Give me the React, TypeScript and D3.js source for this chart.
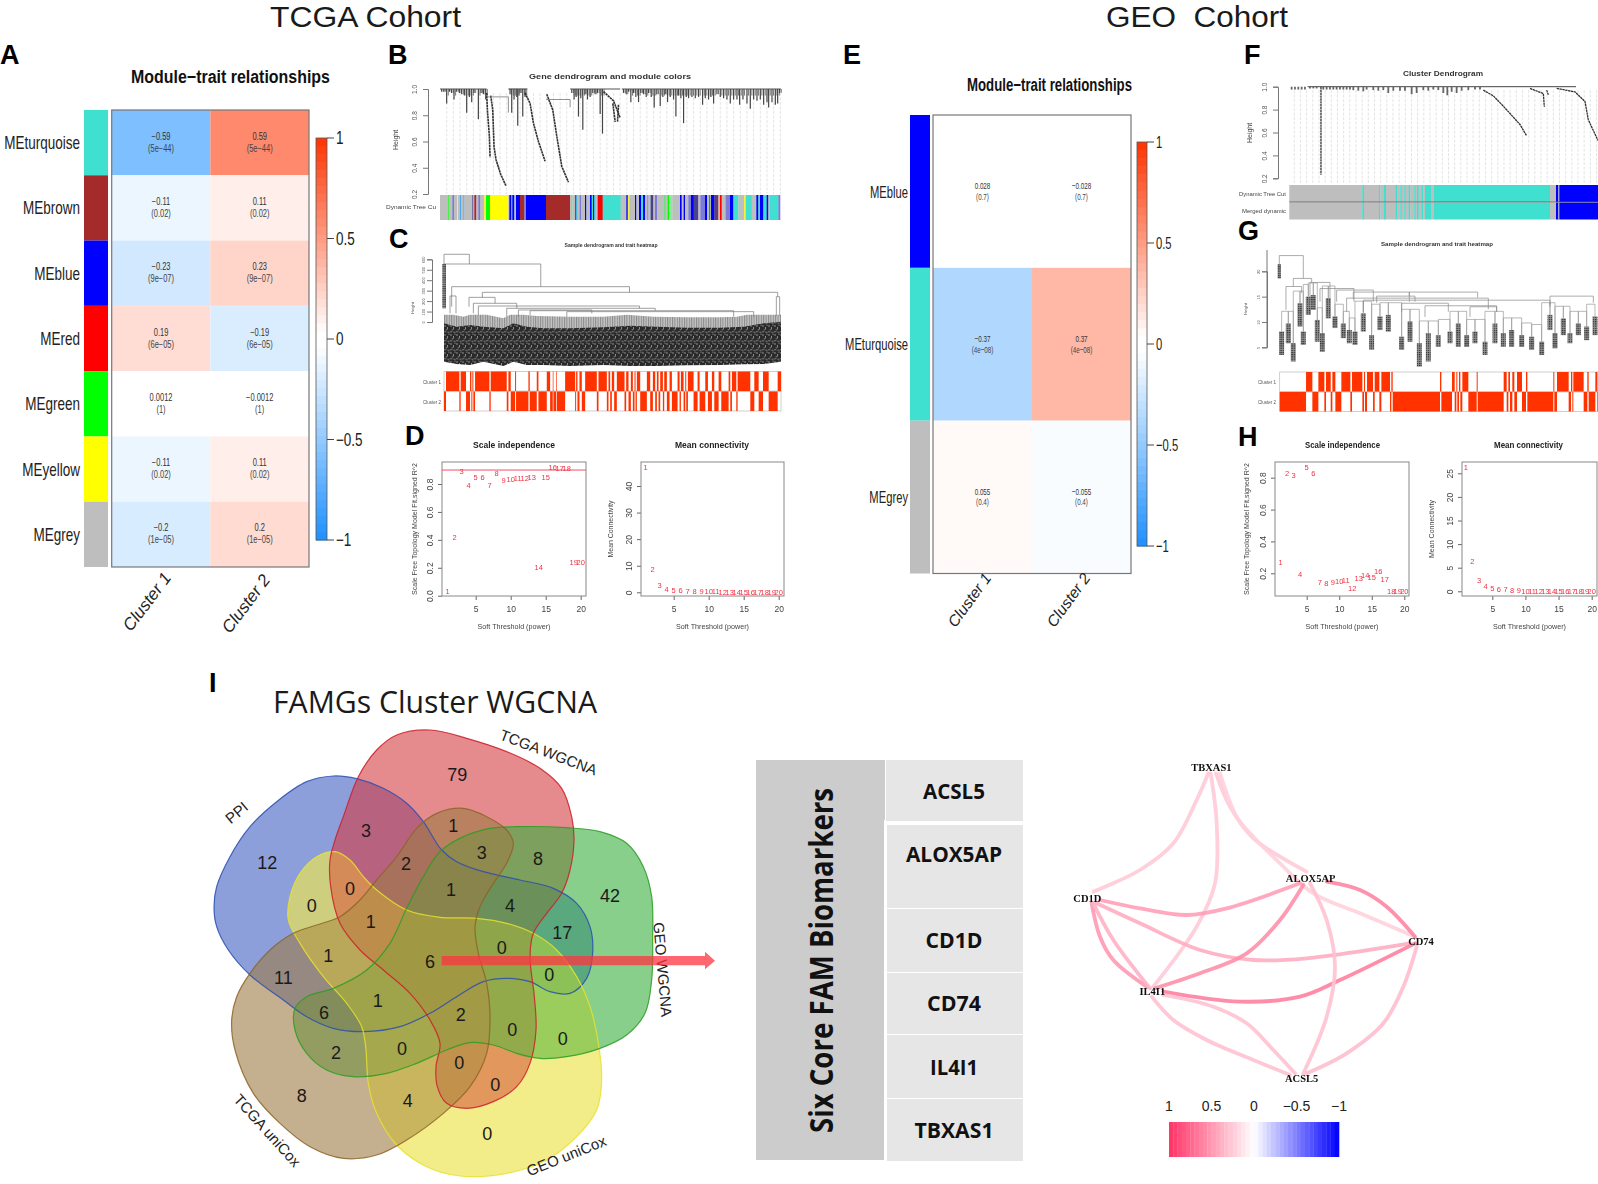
// WGCNA summary figure: TCGA and GEO module-trait panels, venn diagram, biomarker table and network
import React, { useEffect, useRef } from 'react';
import * as d3 from 'd3';

const SANS = '"Liberation Sans", Arial, sans-serif';
const SERIF = '"Liberation Serif", serif';
const OPEN = '"Open Sans", sans-serif';

const TURQ = '#40E0D0', BROWN = '#A52A2A', BLUE = '#0000FF', RED = '#FF0000';
const GREEN = '#00FF00', YELLOW = '#FFFF00', GREY = '#BEBEBE', SLATE = '#7B7BD8', LTB = '#4FA8F0', DK = '#4B3F8F';

// Panel A
const tcgaModules = ['MEturquoise', 'MEbrown', 'MEblue', 'MEred', 'MEgreen', 'MEyellow', 'MEgrey'];
const tcgaColors = [TURQ, BROWN, BLUE, RED, GREEN, YELLOW, GREY];
const tcgaCluster1 = [-0.59, -0.11, -0.23, 0.19, 0.0012, -0.11, -0.2];
const tcgaCluster2 = [0.59, 0.11, 0.23, -0.19, -0.0012, 0.11, 0.2];
const tcgaPValues = ['(5e−44)', '(0.02)', '(9e−07)', '(6e−05)', '(1)', '(0.02)', '(1e−05)'];

// Panel E
const geoModules = ['MEblue', 'MEturquoise', 'MEgrey'];
const geoColors = [BLUE, TURQ, GREY];
const geoCluster1 = [0.028, -0.37, 0.055];
const geoCluster2 = [-0.028, 0.37, -0.055];
const geoPValues = ['(0.7)', '(4e−08)', '(0.4)'];

const clusters = ['Cluster 1', 'Cluster 2'];
const barTicks = [-1, -0.5, 0, 0.5, 1];

// Panels D and H
const powers = d3.range(1, 21);
const tcgaFit = [0.03, 0.42, 0.89, 0.79, 0.845, 0.845, 0.79, 0.88, 0.83, 0.835, 0.84, 0.84, 0.85, 0.2, 0.85, 0.92, 0.91, 0.91, 0.24, 0.24];
const tcgaConn = [46.9, 8.5, 2.5, 1, 0.9, 0.6, 0.4, 0.3, 0.2, 0.2, 0.2, 0.1, 0.1, 0.1, 0.1, 0.1, 0.1, 0.1, 0.1, 0.1];
const geoFit = [0.27, 0.827, 0.815, 0.196, 0.865, 0.83, 0.143, 0.14, 0.145, 0.15, 0.158, 0.106, 0.169, 0.19, 0.175, 0.21, 0.162, 0.09, 0.09, 0.087];
const geoConn = [26.3, 6.4, 2.3, 1.1, 0.6, 0.5, 0.4, 0.2, 0.2, 0.1, 0.1, 0.1, 0.1, 0.1, 0.1, 0.1, 0.1, 0.1, 0.1, 0.1];

// Panel B: gene dendrogram, order along the tree and merge height
const geneFringeOrder = [5, 12, 20, 28, 35, 42, 50, 58, 65, 73, 80, 88, 95, 102, 115, 123, 130, 137, 210, 215, 222, 230, 233, 240, 248, 255, 395, 402, 408, 415, 422, 428, 435, 442, 450, 458, 465, 472, 480, 487, 550, 558, 565, 572, 580, 587, 595, 602, 610, 618, 625, 633, 642, 650, 660, 668, 675, 682, 690, 700, 707, 715, 722, 730, 738, 745, 755, 765, 775, 787, 795, 805, 812, 820, 830, 840, 850, 860, 870, 880, 890, 898, 908, 920, 930, 940, 950, 960, 970, 980, 985, 995, 1005, 1012, 1018];
const geneFringeHeight = [0.98, 0.98, 0.89, 0.98, 0.97, 0.92, 0.98, 0.97, 0.96, 0.95, 0.82, 0.94, 0.9, 0.97, 0.77, 0.97, 0.96, 0.92, 0.96, 0.82, 0.92, 0.94, 0.72, 0.97, 0.79, 0.94, 0.97, 0.92, 0.94, 0.79, 0.93, 0.69, 0.96, 0.92, 0.94, 0.97, 0.96, 0.97, 0.81, 0.66, 0.97, 0.96, 0.98, 0.9, 0.97, 0.94, 0.9, 0.97, 0.96, 0.94, 0.97, 0.94, 0.86, 0.96, 0.87, 0.94, 0.96, 0.9, 0.94, 0.92, 0.79, 0.95, 0.93, 0.74, 0.94, 0.93, 0.94, 0.93, 0.94, 0.88, 0.93, 0.92, 0.94, 0.89, 0.96, 0.94, 0.93, 0.92, 0.89, 0.92, 0.92, 0.88, 0.92, 0.89, 0.85, 0.92, 0.91, 0.92, 0.88, 0.9, 0.86, 0.9, 0.88, 0.89, 0.97];
const geneBranches = [
  [[140, 0.97], [142, 0.84], [148, 0.64], [150, 0.48]],
  [[152, 0.95], [158, 0.84], [162, 0.56], [168, 0.46], [182, 0.35], [198, 0.26]],
  [[255, 0.97], [270, 0.89], [280, 0.74], [295, 0.6], [315, 0.45]],
  [[320, 0.96], [338, 0.84], [350, 0.64], [365, 0.41], [385, 0.29]],
  [[490, 0.98], [520, 0.91], [540, 0.78]],
  [[518, 0.89], [525, 0.75]],
  [[535, 0.88], [532, 0.75]],
];
const geneTop = [[0, 140], [205, 262], [390, 540], [545, 1022]];
const geneStripEnds = [40, 43, 52, 57, 66, 69, 75, 78, 85, 88, 112, 115, 118, 124, 130, 136, 148, 153, 165, 220, 223, 228, 232, 238, 243, 255, 268, 273, 333, 405, 408, 412, 421, 424, 428, 434, 438, 450, 454, 465, 470, 474, 478, 482, 488, 503, 557, 574, 578, 580, 583, 600, 604, 612, 618, 624, 630, 637, 640, 647, 655, 660, 666, 687, 692, 698, 703, 712, 735, 740, 746, 750, 760, 768, 776, 790, 796, 810, 816, 822, 826, 828, 838, 845, 850, 855, 860, 872, 885, 895, 910, 928, 932, 950, 964, 970, 975, 985, 995, 1000, 1005, 1030, 1035];
const geneStripColors = [GREY, GREEN, GREY, SLATE, GREY, YELLOW, GREY, LTB, GREY, LTB, GREY, DK, GREY, BROWN, GREY, SLATE, GREY, YELLOW, GREEN, YELLOW, GREY, BLUE, LTB, BLUE, GREY, BLUE, BROWN, SLATE, BLUE, BROWN, GREY, '#7FE08F', GREY, BLUE, TURQ, GREY, SLATE, GREY, BLUE, GREY, BLUE, TURQ, BLUE, TURQ, GREY, RED, TURQ, GREY, BLUE, GREY, YELLOW, GREY, BLUE, GREY, BLUE, TURQ, BLUE, GREY, SLATE, GREY, DK, GREY, SLATE, GREY, '#6FE07F', GREY, GREEN, '#8FE89F', GREY, BLUE, GREY, BLUE, GREY, SLATE, BLUE, DK, GREY, SLATE, BLUE, GREY, '#22AA22', GREY, BLUE, DK, BROWN, GREY, RED, GREY, SLATE, BLUE, TURQ, GREY, YELLOW, TURQ, GREY, BLUE, TURQ, BLUE, TURQ, BLUE, GREY, TURQ, SLATE];

// Panel C: sample dendrogram, levels read against its height axis
const sampleTicks = [600, 500, 400, 300, 200, 100, 0];
const sampleEnvOrder = [0, 38, 78, 118, 178, 208, 248, 298, 378, 478, 558, 638, 728, 828, 898, 958, 1010];
const sampleEnvTop = [-13, -45, -29, -45, -61, -13, -45, -61, -61, -51, -35, -45, -54, -54, -45, -13, 3];
const sampleEnvBottom = [-380, -402, -412, -380, -421, -380, -412, -412, -421, -412, -421, -421, -415, -412, -405, -402, -380];
const sampleStemOrder = [0, 28, 58, 78, 98, 128, 178, 198, 238, 278, 378, 478, 548, 628, 728, 828, 878, 908, 938, 968, 998, 1010];
const sampleStemTop = [83, 99, 51, 147, 99, 83, 35, 131, 99, 58, 51, 51, 77, 51, 45, 45, 51, 115, 121, 83, 242, 83];
const sampleMerges = [
  [0, 76, 648, 555, 555], [0, 290, 555, 555, 338], [23, 556, 338, 147, 284], [115, 1000, 284, 236, 242],
  [75, 153, 236, 147, 179], [88, 218, 179, 83, 131], [103, 586, 153, 67, 131], [188, 633, 131, 51, 108],
  [223, 443, 115, 51, 83], [258, 868, 108, 67, 51], [368, 928, 99, 51, 51], [18, 36, 249, 83, 83], [996, 1006, 242, 60, 60],
];
const sampleCluster1 = [[18, 58], [62, 78], [90, 94], [97, 100], [105, 148], [152, 200], [205, 212], [225, 228], [265, 269], [290, 295], [320, 330], [338, 340], [348, 350], [375, 405], [408, 412], [418, 425], [435, 470], [475, 500], [505, 510], [515, 522], [530, 553], [558, 565], [572, 578], [583, 586], [590, 600], [620, 630], [638, 645], [650, 655], [660, 668], [672, 680], [688, 695], [712, 718], [722, 730], [735, 738], [743, 760], [772, 778], [795, 803], [815, 822], [835, 843], [865, 870], [875, 888], [892, 930], [942, 955], [968, 985], [1012, 1022]];

// Panel F
const geoGeneFringeOrder = [7, 17, 27, 37, 47, 62, 72, 82, 102, 112, 122, 132, 142, 152, 162, 172, 182, 192, 207, 222, 232, 252, 267, 282, 297, 312, 332, 347, 367, 382, 402, 417, 432, 447, 462, 474, 487, 502, 517, 537, 557, 572];
const geoGeneFringeHeight = [0.975, 0.975, 0.975, 0.975, 0.975, 0.985, 0.985, 0.985, 0.975, 0.975, 0.975, 0.975, 0.975, 0.975, 0.975, 0.975, 0.975, 0.97, 0.965, 0.96, 0.975, 0.97, 0.965, 0.97, 0.945, 0.965, 0.965, 0.965, 0.935, 0.945, 0.97, 0.965, 0.975, 0.97, 0.945, 0.925, 0.955, 0.945, 0.965, 0.97, 0.975, 0.975];
const geoGeneBranches = [
  [[95, 1.0], [95, 0.23]],
  [[582, 0.97], [612, 0.92], [642, 0.83], [667, 0.75], [692, 0.67], [712, 0.57]],
  [[722, 0.985], [762, 0.94], [765, 0.825]],
  [[772, 0.97], [777, 0.93]],
  [[802, 0.985], [857, 0.955], [887, 0.87], [897, 0.71], [926, 0.53]],
];
const geoStripEnds = [219, 224, 269, 273, 284, 290, 318, 323, 333, 337, 345, 349, 358, 363, 375, 379, 383, 388, 397, 402, 407, 425, 434, 782, 800, 807, 810, 926];
const geoStripColors = [GREY, TURQ, GREY, TURQ, GREY, TURQ, GREY, TURQ, GREY, TURQ, GREY, TURQ, GREY, TURQ, GREY, TURQ, GREY, TURQ, GREY, TURQ, GREY, TURQ, GREY, TURQ, GREY, BLUE, GREY, BLUE];

// Panel G: leaf clumps with their top and bottom heights, then the long merges above them
const clumpOrder = [7, 27, 42, 62, 72, 87, 102, 114, 129, 147, 167, 192, 210, 227, 252, 277, 302, 327, 367, 392, 420, 447, 477, 512, 537, 562, 587, 617, 647, 672, 697, 727, 757, 787, 812, 827, 852, 872, 897, 922, 947];
const clumpTop = [8.1, 9.7, 5.8, 13.7, 8.1, 15, 15.3, 10.4, 7.8, 14.7, 11.1, 9.7, 8.4, 8.1, 11.7, 7.4, 11.1, 11.4, 7.1, 10.1, 5.8, 7.8, 7.4, 8.1, 9.7, 7.4, 8.1, 6.1, 9.7, 7.8, 8.4, 7.4, 7.1, 6.1, 11.4, 7.8, 10.7, 7.8, 9.7, 9.1, 11.1];
const clumpBottom = [3.5, 5.8, 2.2, 9.1, 5.5, 11.4, 12.4, 6.1, 4.1, 10.7, 8.8, 6.8, 5.8, 5.5, 8.1, 4.5, 8.4, 8.1, 4.5, 6.1, 1.2, 2.2, 5.1, 5.8, 5.1, 5.1, 5.8, 3.5, 5.8, 5.1, 5.1, 5.1, 4.5, 3.5, 8.4, 4.8, 7.4, 5.8, 7.4, 6.4, 7.4];
const geoMerges = [
  [0, 72, 23.1, 21.4, 18.6], [42, 97, 18.6, 17, 17.8], [20, 67, 17, 12.4, 15.7], [92, 152, 17.8, 14, 14.7],
  [122, 224, 16.6, 14, 14], [172, 282, 16.3, 14, 14], [222, 390, 15.9, 14.5, 15.1], [390, 595, 15.9, 14, 14.8],
  [202, 627, 14.7, 12, 12.5], [292, 407, 15.1, 13.8, 14], [252, 812, 14.3, 12, 13], [367, 507, 13.7, 12, 12],
  [437, 652, 13.2, 11, 12], [572, 652, 13, 11, 12], [812, 942, 15.1, 13.5, 13.8],
];
const geoCluster1Spans = [[93, 112], [130, 148], [153, 167], [172, 181], [199, 226], [231, 262], [267, 270], [276, 294], [299, 313], [319, 345], [349, 353], [495, 499], [531, 539], [544, 547], [552, 556], [562, 580], [605, 608], [686, 695], [700, 705], [712, 718], [726, 741], [753, 757], [835, 838], [846, 881], [888, 892], [895, 926], [937, 941], [961, 967]];

// Panel I: venn outlines and counts, in the diagram's own units
const vennPPI = [[400, 288], [470, 296], [550, 325], [620, 370], [670, 425], [725, 510], [770, 545], [850, 575], [960, 600], [1060, 625], [1130, 670], [1170, 740], [1178, 820], [1160, 895], [1110, 940], [1050, 935], [990, 905], [920, 895], [850, 905], [770, 950], [690, 1000], [600, 1040], [490, 1055], [400, 1045], [320, 1010], [250, 960], [150, 885], [85, 810], [50, 740], [42, 680], [50, 620], [90, 530], [150, 440], [230, 365], [320, 305]];
const vennTcgaWgcna = [[690, 150], [800, 175], [920, 215], [1020, 265], [1085, 325], [1115, 410], [1122, 480], [1110, 570], [1085, 640], [1040, 700], [1000, 760], [990, 830], [1003, 950], [1008, 1050], [990, 1150], [950, 1220], [880, 1265], [800, 1285], [740, 1270], [712, 1220], [708, 1160], [720, 1090], [690, 1020], [630, 940], [550, 870], [480, 810], [420, 730], [392, 620], [390, 540], [405, 480], [430, 410], [475, 290], [530, 210], [590, 165]];
const vennGeoWgcna = [[950, 440], [1100, 443], [1200, 455], [1280, 490], [1330, 560], [1355, 650], [1358, 780], [1355, 900], [1335, 1000], [1280, 1065], [1200, 1105], [1100, 1130], [1020, 1135], [950, 1120], [880, 1095], [810, 1088], [740, 1110], [650, 1150], [560, 1180], [460, 1190], [380, 1170], [320, 1120], [285, 1050], [285, 985], [320, 950], [400, 925], [500, 870], [570, 790], [620, 685], [670, 590], [720, 515], [790, 470], [870, 445]];
const vennTcgaUni = [[790, 385], [860, 410], [920, 450], [940, 490], [920, 550], [880, 610], [840, 680], [825, 740], [835, 820], [860, 910], [870, 1010], [860, 1120], [810, 1220], [730, 1300], [620, 1380], [530, 1425], [430, 1435], [330, 1400], [240, 1330], [160, 1240], [105, 1110], [95, 1020], [110, 950], [150, 880], [210, 810], [280, 760], [350, 735], [420, 710], [480, 660], [530, 600], [590, 530], [650, 445], [710, 400]];
const vennGeoUni = [[405, 515], [450, 540], [490, 590], [530, 630], [620, 690], [720, 712], [830, 715], [920, 730], [1000, 760], [1070, 810], [1130, 890], [1170, 980], [1195, 1090], [1205, 1200], [1190, 1290], [1130, 1370], [1040, 1440], [920, 1480], [780, 1488], [680, 1460], [590, 1395], [530, 1300], [505, 1210], [497, 1100], [485, 1040], [440, 970], [370, 890], [300, 790], [265, 720], [270, 650], [300, 580], [350, 530]];
const vennShapes = [vennPPI, vennGeoUni, vennTcgaWgcna, vennGeoWgcna, vennTcgaUni];
const vennFills = ['#3F5FC3', '#EEED5F', '#D43C41', '#39AF3F', '#9D7B44'];
const vennStrokes = ['#2C4DB0', '#E8E22E', '#CC1F2A', '#2A9E22', '#8C6428'];
const vennCounts = ['79', '3', '1', '12', '3', '8', '2', '42', '0', '1', '4', '0', '1', '17', '0', '1', '6', '0', '11', '1', '6', '2', '0', '0', '2', '0', '0', '0', '8', '4', '0'];
const vennCountPos = [[772, 283], [498, 452], [760, 435], [202, 548], [845, 516], [1014, 536], [618, 549], [1230, 647], [450, 624], [753, 628], [930, 677], [335, 675], [512, 725], [1087, 757], [905, 802], [385, 825], [690, 845], [1048, 883], [250, 892], [533, 960], [372, 997], [782, 1002], [937, 1047], [1088, 1075], [408, 1117], [606, 1105], [778, 1147], [886, 1212], [305, 1245], [623, 1262], [862, 1360]];
const vennSets = ['TCGA WGCNA', 'PPI', 'GEO WGCNA', 'TCGA uniCox', 'GEO uniCox'];
const vennSetPos = [[1040, 232], [120, 410], [1372, 870], [190, 1362], [1105, 1442]];
const vennSetAngle = [21, -40, 85, 48, -22];

// Biomarker table and correlation network
const biomarkers = ['ACSL5', 'ALOX5AP', 'CD1D', 'CD74', 'IL4I1', 'TBXAS1'];
const biomarkerTops = [760, 825, 909, 973, 1035, 1099];
const biomarkerBottoms = [821, 908, 972, 1034, 1098, 1161];
const biomarkerBase = [799, 862, 948, 1011, 1075, 1138];
const biomarkerWidths = [62, 96, 57, 54, 48, 79];
const nodeNames = ['TBXAS1', 'ALOX5AP', 'CD1D', 'CD74', 'IL4I1', 'ACSL5'];
const nodePos = [[514, 83], [812, 415], [142, 475], [1143, 605], [337, 755], [785, 1015]];
const edgeCorr = [0.26, 0.26, 0.26, 0.22, 0.6, 0.47, 0.4, 0.5, 0.38, 0.55, 0.62, 0.3, 0.3, 0.3, 0.32];
const edgePaths = [
  [[505, 100], [470, 180], [400, 310], [300, 390], [160, 455]],
  [[512, 100], [530, 250], [525, 430], [470, 560], [340, 740]],
  [[528, 100], [570, 200], [640, 295], [800, 395]],
  [[540, 100], [590, 230], [640, 290], [720, 370], [820, 460], [960, 520], [1125, 590]],
  [[860, 425], [960, 450], [1040, 500], [1125, 590]],
  [[180, 480], [300, 505], [440, 525], [560, 505], [780, 430]],
  [[170, 490], [300, 550], [480, 630], [640, 660], [800, 655], [1110, 610]],
  [[155, 490], [180, 590], [220, 660], [320, 740]],
  [[160, 490], [220, 600], [330, 745]],
  [[345, 745], [480, 700], [620, 640], [720, 540], [790, 435]],
  [[370, 755], [600, 785], [780, 770], [900, 720], [1125, 610]],
  [[370, 765], [520, 800], [620, 850], [700, 930], [765, 1000]],
  [[335, 770], [400, 840], [500, 900], [640, 960], [750, 1005]],
  [[810, 430], [860, 540], [885, 680], [860, 830], [790, 1000]],
  [[1130, 620], [1090, 740], [1030, 850], [920, 940], [800, 1000]],
];
const netLegendTicks = [1, 0.5, 0, -0.5, -1];
const netLegendLabels = ['1', '0.5', '0', '−0.5', '−1'];

type Sel = d3.Selection<any, any, any, any>;
interface TextOpts { size?: number; anchor?: string; weight?: string | number; family?: string; fill?: string; rot?: number; sx?: number; len?: number; italic?: boolean; }

const put = (sel: Sel, str: string, x: number, y: number, o: TextOpts = {}) => {
  const t = sel.append('text')
    .attr('transform', `translate(${x},${y})${o.rot ? ` rotate(${o.rot})` : ''}${o.sx ? ` scale(${o.sx},1)` : ''}`)
    .attr('text-anchor', o.anchor ?? 'start')
    .attr('font-family', o.family ?? SANS)
    .attr('font-size', o.size ?? 10)
    .attr('font-weight', o.weight ?? 'normal')
    .attr('fill', o.fill ?? '#111')
    .style('white-space', 'pre')
    .text(str);
  if (o.italic) t.attr('font-style', 'italic');
  if (o.len) t.attr('textLength', o.len).attr('lengthAdjust', 'spacingAndGlyphs');
  return t;
};

// the key is white for anything very close to zero
const heatColor = d3.scaleLinear<string>().domain([-1, -0.03, 0.03, 1]).range(['#1E90FF', '#FFFFFF', '#FFFFFF', '#FF3300']);
const netColor = d3.scaleLinear<string>().domain([-1, 0, 1]).range(['#0000FF', '#FFFFFF', '#FF3366']);

interface HeatOpts {
  modules: string[]; colors: string[]; c1: number[]; c2: number[]; pvals: string[];
  x: [number, number]; y: [number, number]; strip: [number, number]; bar: [number, number, number, number];
  title: [number, number, number]; labelX: number; labelSize: number; labelSx: number; cellSize: number; cellSx: number; cellGap: number;
  clusterEnd: [number, number][]; clusterSize: number; clusterRot: number;
}

function drawHeatmap(svg: Sel, o: HeatOpts) {
  const g = svg.append('g');
  const row = d3.scaleBand<string>().domain(o.modules).range(o.y);
  const col = d3.scaleBand<string>().domain(clusters).range(o.x);
  put(g, 'Module−trait relationships', o.title[0], o.title[1], { size: 18, weight: 'bold', len: o.title[2] });
  o.modules.forEach((m, i) => {
    const y = row(m) as number;
    g.append('rect').attr('x', o.strip[0]).attr('y', y).attr('width', o.strip[1] - o.strip[0]).attr('height', row.bandwidth()).attr('fill', o.colors[i]);
    [o.c1[i], o.c2[i]].forEach((v, j) => {
      const name = clusters[j];
      const cx = (col(name) as number) + col.bandwidth() / 2;
      const cy = y + row.bandwidth() / 2;
      g.append('rect').attr('x', col(name) as number).attr('y', y).attr('width', col.bandwidth()).attr('height', row.bandwidth()).attr('fill', heatColor(v));
      const label = String(v).replace('-', '−');
      put(g, label, cx, cy - o.cellGap + 3, { size: o.cellSize, sx: o.cellSx, anchor: 'middle', fill: '#333' });
      put(g, o.pvals[i], cx, cy + o.cellGap + 3, { size: o.cellSize, sx: o.cellSx, anchor: 'middle', fill: '#444' });
    });
    put(g, m, o.labelX, y + row.bandwidth() / 2 + o.labelSize * 0.36, { size: o.labelSize, sx: o.labelSx, anchor: 'end', fill: '#222' });
  });
  g.append('rect').attr('x', o.x[0]).attr('y', o.y[0]).attr('width', o.x[1] - o.x[0]).attr('height', o.y[1] - o.y[0]).attr('fill', 'none').attr('stroke', '#777').attr('stroke-width', 1.2);

  clusters.forEach((c, i) => {
    put(g, c, o.clusterEnd[i][0], o.clusterEnd[i][1], { size: o.clusterSize, anchor: 'end', rot: o.clusterRot, italic: true, fill: '#222' });
  });

  // colour key
  const [bx0, bx1, by0, by1] = o.bar;
  const bar = d3.scaleLinear().domain([-1, 1]).range([by1, by0]);
  d3.range(-1, 1, 0.04).forEach((v) => {
    g.append('rect').attr('x', bx0).attr('y', bar(v + 0.04)).attr('width', bx1 - bx0).attr('height', bar(v) - bar(v + 0.04) + 0.5).attr('fill', heatColor(v + 0.02));
  });
  g.append('rect').attr('x', bx0).attr('y', by0).attr('width', bx1 - bx0).attr('height', by1 - by0).attr('fill', 'none').attr('stroke', '#555').attr('stroke-width', 0.8);
  barTicks.forEach((t) => {
    g.append('line').attr('x1', bx1).attr('x2', bx1 + 7).attr('y1', bar(t)).attr('y2', bar(t)).attr('stroke', '#444');
    put(g, String(t).replace('-', '−'), bx1 + 9, bar(t) + o.labelSize * 0.36, { size: o.labelSize, sx: o.labelSx, fill: '#222' });
  });
}

interface SoftOpts {
  box: [number, number, number, number]; xr: [number, number]; yd: [number, number]; yr: [number, number];
  values: number[]; yTicks: number[]; fmt: (v: number) => string; title: string; titleX: [number, number];
  ylabel: string; ylabelX: number; ylabelLen: number; cutoff?: number;
}

function drawSoftPanel(svg: Sel, o: SoftOpts) {
  const g = svg.append('g').attr('filter', 'url(#soft)');
  const [x0, x1, y0, y1] = o.box;
  const x = d3.scaleLinear().domain([5, 20]).range(o.xr);
  const y = d3.scaleLinear().domain(o.yd).range(o.yr);
  const ax = g.append('g').attr('transform', `translate(0,${y1})`)
    .call(d3.axisBottom(x).tickValues([5, 10, 15, 20]).tickSize(4).tickPadding(6).tickFormat((d) => String(d)));
  ax.select('.domain').remove();
  ax.selectAll('text').attr('font-family', SANS).attr('font-size', 8.5).attr('fill', '#444');
  ax.selectAll('line').attr('stroke', '#666');
  const ay = g.append('g').attr('transform', `translate(${x0},0)`)
    .call(d3.axisLeft(y).tickValues(o.yTicks).tickSize(4).tickFormat((d) => o.fmt(d as number)));
  ay.select('.domain').remove();
  ay.selectAll('line').attr('stroke', '#666');
  ay.selectAll('text').attr('font-family', SANS).attr('font-size', 8.5).attr('fill', '#444')
    .attr('transform', 'rotate(-90)').attr('text-anchor', 'middle').attr('x', 0).attr('y', -9).attr('dy', 0);
  g.append('rect').attr('x', x0).attr('y', y0).attr('width', x1 - x0).attr('height', y1 - y0).attr('fill', 'none').attr('stroke', '#888').attr('stroke-width', 1);
  if (o.cutoff !== undefined) {
    g.append('line').attr('x1', x0).attr('x2', x1).attr('y1', y(o.cutoff)).attr('y2', y(o.cutoff)).attr('stroke', '#F0506A').attr('stroke-width', 1);
  }
  powers.forEach((p, i) => {
    put(g, String(p), x(p), y(o.values[i]) + 2.7, { size: 7.5, anchor: 'middle', fill: '#F03040' });
  });
  put(g, o.title, (o.titleX[0] + o.titleX[1]) / 2, 447.5, { size: 8.5, weight: 'bold', anchor: 'middle', len: o.titleX[1] - o.titleX[0], fill: '#222' });
  put(g, 'Soft Threshold (power)', (x0 + x1) / 2, 629, { size: 8, anchor: 'middle', len: 73, fill: '#444' });
  put(g, o.ylabel, o.ylabelX, 529, { size: 8, anchor: 'middle', rot: -90, len: o.ylabelLen, fill: '#444' });
}

function drawStrip(g: Sel, x: d3.ScaleLinear<number, number>, start: number, ends: number[], colors: string[], y: number, h: number) {
  ends.forEach((end, i) => {
    const s = i === 0 ? start : ends[i - 1];
    g.append('rect').attr('x', x(s)).attr('y', y).attr('width', x(end) - x(s) + 0.3).attr('height', h).attr('fill', colors[i]);
  });
}

// each sample falls in one cluster, so the second row is the gaps of the first
function drawClusterRows(g: Sel, x: d3.ScaleLinear<number, number>, spans: number[][], d0: number, d1: number, y1: number, y2: number, h: number) {
  g.append('rect').attr('x', x(d0)).attr('y', y1).attr('width', x(d1) - x(d0)).attr('height', h).attr('fill', '#fff').attr('stroke', '#bbb').attr('stroke-width', 0.7);
  g.append('rect').attr('x', x(d0)).attr('y', y2).attr('width', x(d1) - x(d0)).attr('height', h).attr('fill', '#fff').attr('stroke', '#bbb').attr('stroke-width', 0.7);
  let last = d0;
  spans.forEach(([a, b]) => {
    g.append('rect').attr('x', x(a)).attr('y', y1).attr('width', x(b) - x(a)).attr('height', h).attr('fill', '#FF3300');
    if (a > last) g.append('rect').attr('x', x(last)).attr('y', y2).attr('width', x(a) - x(last)).attr('height', h).attr('fill', '#FF3300');
    last = b;
  });
  if (last < d1) g.append('rect').attr('x', x(last)).attr('y', y2).attr('width', x(d1) - x(last)).attr('height', h).attr('fill', '#FF3300');
}

function drawHeightAxis(g: Sel, x: number, y: d3.ScaleLinear<number, number>, ticks: number[], fmt: (v: number) => string, labelX: number, size: number) {
  const ax = g.append('g').attr('transform', `translate(${x},0)`)
    .call(d3.axisLeft(y).tickValues(ticks).tickSize(5).tickFormat((d) => fmt(d as number)));
  ax.select('.domain').attr('stroke', '#777');
  ax.selectAll('line').attr('stroke', '#777');
  ax.selectAll('text').attr('font-family', SANS).attr('font-size', size).attr('fill', '#555')
    .attr('transform', 'rotate(-90)').attr('text-anchor', 'middle').attr('x', 0).attr('y', labelX).attr('dy', 0);
}

const App: React.FC = () => {
  const svgRef = useRef<SVGSVGElement>(null);

  useEffect(() => {
    const svg = d3.select(svgRef.current);
    svg.selectAll('*').remove();

    const defs = svg.append('defs');
    defs.append('filter').attr('id', 'soft').attr('x', '-5%').attr('y', '-5%').attr('width', '110%').attr('height', '110%')
      .append('feGaussianBlur').attr('stdDeviation', 0.35);

    // leaf textures of the dendrograms
    const massPat = defs.append('pattern').attr('id', 'mass').attr('width', 6).attr('height', 9).attr('patternUnits', 'userSpaceOnUse');
    massPat.append('rect').attr('width', 6).attr('height', 9).attr('fill', '#2b2b2b');
    [[0.5, 1, 1, 2], [3, 3, 1, 2.5], [1.8, 5, 0.8, 1.5], [4.6, 0.5, 0.8, 1.5], [0, 7.4, 2.4, 0.8], [3.4, 7.8, 2.2, 0.8]].forEach(([x, y, w, h]) => {
      massPat.append('rect').attr('x', x).attr('y', y).attr('width', w).attr('height', h).attr('fill', '#8c8c8c');
    });
    const stemPat = defs.append('pattern').attr('id', 'stem').attr('width', 2.4).attr('height', 6).attr('patternUnits', 'userSpaceOnUse');
    stemPat.append('rect').attr('width', 2.4).attr('height', 6).attr('fill', '#c4c4c4');
    stemPat.append('rect').attr('width', 1).attr('height', 6).attr('fill', '#8a8a8a');
    const leafPat = defs.append('pattern').attr('id', 'leaf').attr('width', 2.2).attr('height', 2.2).attr('patternUnits', 'userSpaceOnUse');
    leafPat.append('rect').attr('width', 2.2).attr('height', 2.2).attr('fill', '#8f8f8f');
    leafPat.append('rect').attr('width', 1.4).attr('height', 1.1).attr('fill', '#2f2f2f');

    // cohort headers and panel letters
    put(svg, 'TCGA Cohort', 270, 26.5, { size: 29, len: 191, fill: '#1a1a1a' });
    put(svg, 'GEO  Cohort', 1106, 26.5, { size: 29, len: 182, fill: '#1a1a1a' });
    const letters = ['A', 'B', 'C', 'D', 'E', 'F', 'G', 'H', 'I'];
    const letterX = [0, 388, 389, 405, 843, 1244, 1238, 1238, 209];
    const letterY = [64, 64, 248, 445, 64, 64, 240, 446, 692];
    letters.forEach((l, i) => put(svg, l, letterX[i], letterY[i], { size: 27, weight: 'bold', fill: '#000' }));

    drawHeatmap(svg, {
      modules: tcgaModules, colors: tcgaColors, c1: tcgaCluster1, c2: tcgaCluster2, pvals: tcgaPValues,
      x: [111.7, 309], y: [110, 567], strip: [84, 108], bar: [316, 327, 138, 540],
      title: [131, 83, 199], labelX: 80, labelSize: 18, labelSx: 0.75, cellSize: 10, cellSx: 0.75, cellGap: 6,
      clusterEnd: [[172, 578], [271, 580]], clusterSize: 17, clusterRot: -53,
    });
    drawHeatmap(svg, {
      modules: geoModules, colors: geoColors, c1: geoCluster1, c2: geoCluster2, pvals: geoPValues,
      x: [933, 1131], y: [115, 573.5], strip: [910, 930], bar: [1137, 1147, 142, 546],
      title: [967, 91, 165], labelX: 908, labelSize: 17, labelSx: 0.66, cellSize: 9.5, cellSx: 0.66, cellGap: 5.3,
      clusterEnd: [[992, 578], [1091, 578]], clusterSize: 15.5, clusterRot: -54,
    });

    // B: gene dendrogram
    const gB = svg.append('g').attr('filter', 'url(#soft)');
    const bx = d3.scaleLinear().domain([0, 1022]).range([440, 781]);
    const by = d3.scaleLinear().domain([0.2, 1]).range([194, 89]);
    put(gB, 'Gene dendrogram and module colors', 610, 79, { size: 7, weight: 'bold', anchor: 'middle', len: 162, fill: '#333' });
    drawHeightAxis(gB, 428, by, [0.2, 0.4, 0.6, 0.8, 1], (v) => v.toFixed(1), -11, 6.5);
    put(gB, 'Height', 398, 140, { size: 7, anchor: 'middle', rot: -90, fill: '#444' });
    d3.range(20, 1022, 20).forEach((o) => {
      gB.append('line').attr('x1', bx(o)).attr('x2', bx(o)).attr('y1', by(0.97)).attr('y2', by(0.2)).attr('stroke', '#d8d8d8').attr('stroke-width', 0.7).attr('stroke-dasharray', '3 1.5');
    });
    geneTop.forEach(([a, b]) => {
      gB.append('line').attr('x1', bx(a)).attr('x2', bx(b)).attr('y1', by(1)).attr('y2', by(1)).attr('stroke', '#555').attr('stroke-width', 1.2);
    });
    geneFringeOrder.forEach((o, i) => {
      gB.append('line').attr('x1', bx(o)).attr('x2', bx(o)).attr('y1', by(1)).attr('y2', by(geneFringeHeight[i])).attr('stroke', '#444').attr('stroke-width', 1.2);
      gB.append('line').attr('x1', bx(o) + 1.6).attr('x2', bx(o) + 1.6).attr('y1', by(1)).attr('y2', by(Math.max(geneFringeHeight[i], 0.95))).attr('stroke', '#777').attr('stroke-width', 1);
    });
    const treeLine = d3.line<number[]>();
    const drawBranches = (g: Sel, x: d3.ScaleLinear<number, number>, y: d3.ScaleLinear<number, number>, list: number[][][], w: number) => {
      list.forEach((b) => {
        g.append('path').attr('d', treeLine.x((p) => x(p[0])).y((p) => y(p[1]))(b)).attr('fill', 'none').attr('stroke', '#333').attr('stroke-width', w).attr('stroke-dasharray', '2.4 0.5');
      });
    };
    drawBranches(gB, bx, by, geneBranches, 1.6);
    [[142, 205, 0.94, 0.82], [318, 390, 0.92, 0.86]].forEach(([a, b, h, d]) => {
      gB.append('path').attr('d', `M${bx(a)},${by(h)}H${bx(b)}V${by(d)}`).attr('fill', 'none').attr('stroke', '#777').attr('stroke-width', 0.8);
    });
    const bStrip = d3.scaleLinear().domain([15, 1035]).range([440, 780]);
    drawStrip(gB, bStrip, 15, geneStripEnds, geneStripColors, 195, 25);
    put(gB, 'Dynamic Tree Cu', 386, 209, { size: 6, len: 50, fill: '#444' });

    // C: sample dendrogram
    const gC = svg.append('g').attr('filter', 'url(#soft)');
    const cx = d3.scaleLinear().domain([0, 1010]).range([444, 781]);
    const cy = d3.scaleLinear().domain([0, 600]).range([322, 259.3]);
    put(gC, 'Sample dendrogram and trait heatmap', 611, 247, { size: 5.5, weight: 'bold', anchor: 'middle', len: 93, fill: '#333' });
    drawHeightAxis(gC, 432, cy, sampleTicks, (v) => String(v), -7, 4);
    put(gC, 'Height', 414, 308, { size: 4, anchor: 'middle', rot: -90, fill: '#444' });
    const stemArea = d3.area<number>().x((o) => cx(o));
    const stemBottom = d3.scaleLinear().domain(sampleEnvOrder).range(sampleEnvTop);
    gC.append('path').attr('fill', 'url(#stem)')
      .attr('d', stemArea.y0((o) => cy(stemBottom(o) - 10)).y1((_, i) => cy(Math.min(sampleStemTop[i], 70)))(sampleStemOrder));
    gC.append('rect').attr('x', cx(-5)).attr('y', cy(555)).attr('width', cx(6) - cx(-5)).attr('height', cy(131) - cy(555)).attr('fill', 'url(#leaf)');
    const massArea = d3.area<number>().x((o) => cx(o)).y0((_, i) => cy(sampleEnvBottom[i])).y1((_, i) => cy(sampleEnvTop[i]));
    gC.append('path').attr('fill', 'url(#mass)').attr('d', massArea(sampleEnvOrder));
    sampleMerges.forEach(([l, r, h, ld, rd]) => {
      gC.append('path').attr('d', `M${cx(l)},${cy(ld)}V${cy(h)}H${cx(r)}V${cy(rd)}`).attr('fill', 'none').attr('stroke', '#777').attr('stroke-width', 0.7);
    });
    const cRow = d3.scaleLinear().domain([12, 1022]).range([444, 781]);
    drawClusterRows(gC, cRow, sampleCluster1, 12, 1022, 371.5, 391.5, 19.5);
    put(gC, 'Cluster 1', 441, 384, { size: 4.5, anchor: 'end', fill: '#555' });
    put(gC, 'Cluster 2', 441, 404, { size: 4.5, anchor: 'end', fill: '#555' });

    // F: GEO cluster dendrogram
    const gF = svg.append('g').attr('filter', 'url(#soft)');
    const fx = d3.scaleLinear().domain([0, 926]).range([1289.3, 1598]);
    const fy = d3.scaleLinear().domain([0.2, 1]).range([178.3, 86.7]);
    put(gF, 'Cluster Dendrogram', 1443, 76, { size: 7, weight: 'bold', anchor: 'middle', len: 80, fill: '#333' });
    drawHeightAxis(gF, 1278, fy, [0.2, 0.4, 0.6, 0.8, 1], (v) => v.toFixed(1), -11, 6.5);
    put(gF, 'Height', 1252, 133, { size: 7, anchor: 'middle', rot: -90, fill: '#444' });
    d3.range(15, 926, 18.5).forEach((o) => {
      gF.append('line').attr('x1', fx(o)).attr('x2', fx(o)).attr('y1', fy(0.97)).attr('y2', fy(0.16)).attr('stroke', '#d8d8d8').attr('stroke-width', 0.7).attr('stroke-dasharray', '3 1.5');
    });
    gF.append('line').attr('x1', fx(55)).attr('x2', fx(860)).attr('y1', fy(1)).attr('y2', fy(1)).attr('stroke', '#444').attr('stroke-width', 1);
    geoGeneFringeOrder.forEach((o, i) => {
      gF.append('line').attr('x1', fx(o)).attr('x2', fx(o)).attr('y1', fy(1)).attr('y2', fy(geoGeneFringeHeight[i])).attr('stroke', '#666').attr('stroke-width', 1.8);
    });
    drawBranches(gF, fx, fy, geoGeneBranches, 1.3);
    drawStrip(gF, fx, 0, geoStripEnds, geoStripColors, 185, 17);
    drawStrip(gF, fx, 0, geoStripEnds, geoStripColors, 202.5, 17);
    gF.append('line').attr('x1', fx(0)).attr('x2', 1598).attr('y1', 202).attr('y2', 202).attr('stroke', '#555').attr('stroke-width', 0.8);
    put(gF, 'Dynamic Tree Cut', 1286, 196, { size: 6, anchor: 'end', len: 47, fill: '#444' });
    put(gF, 'Merged dynamic', 1286, 212.5, { size: 6, anchor: 'end', len: 44, fill: '#444' });

    // G: GEO sample dendrogram
    const gG = svg.append('g').attr('filter', 'url(#soft)');
    const gx = d3.scaleLinear().domain([0, 956]).range([1279.3, 1598]);
    const gy = d3.scaleLinear().domain([5, 20]).range([347.3, 271.3]);
    put(gG, 'Sample dendrogram and trait heatmap', 1437, 246, { size: 5.5, weight: 'bold', anchor: 'middle', len: 112, fill: '#333' });
    drawHeightAxis(gG, 1267, gy, [5, 10, 15, 20], (v) => String(v), -7, 4);
    put(gG, 'Height', 1247, 309, { size: 4, anchor: 'middle', rot: -90, fill: '#444' });
    gG.append('line').attr('x1', 1267).attr('x2', 1267).attr('y1', 250).attr('y2', 347).attr('stroke', '#777');
    gG.append('rect').attr('x', gx(-5)).attr('y', gy(21.4)).attr('width', gx(5) - gx(-5)).attr('height', gy(18.6) - gy(21.4)).attr('fill', 'url(#leaf)');
    clumpOrder.forEach((o, i) => {
      const w = gx(15) - gx(0);
      gG.append('rect').attr('x', gx(o) - w / 2).attr('y', gy(clumpTop[i])).attr('width', w).attr('height', gy(clumpBottom[i]) - gy(clumpTop[i])).attr('fill', 'url(#leaf)');
      if (i < clumpOrder.length - 1) {
        const h = Math.max(clumpTop[i], clumpTop[i + 1]) + 2.4;
        gG.append('path').attr('d', `M${gx(o)},${gy(clumpTop[i])}V${gy(h)}H${gx(clumpOrder[i + 1])}V${gy(clumpTop[i + 1])}`).attr('fill', 'none').attr('stroke', '#999').attr('stroke-width', 0.7);
      }
    });
    geoMerges.forEach(([l, r, h, ld, rd]) => {
      gG.append('path').attr('d', `M${gx(l)},${gy(ld)}V${gy(h)}H${gx(r)}V${gy(rd)}`).attr('fill', 'none').attr('stroke', '#888').attr('stroke-width', 0.7);
    });
    const gRow = d3.scaleLinear().domain([14, 969]).range([1279.7, 1598]);
    drawClusterRows(gG, gRow, geoCluster1Spans, 14, 969, 372, 392, 19.5);
    put(gG, 'Cluster 1', 1276, 384, { size: 4.5, anchor: 'end', fill: '#555' });
    put(gG, 'Cluster 2', 1276, 404, { size: 4.5, anchor: 'end', fill: '#555' });

    // D and H: soft threshold scans
    drawSoftPanel(svg, { box: [442, 586, 462, 596], xr: [475.7, 580.7], yd: [0, 0.8], yr: [595.7, 484], values: tcgaFit, yTicks: [0, 0.2, 0.4, 0.6, 0.8], fmt: (v) => v.toFixed(1), title: 'Scale independence', titleX: [473, 555], ylabel: 'Scale Free Topology Model Fit,signed R^2', ylabelX: 417, ylabelLen: 132, cutoff: 0.9 });
    drawSoftPanel(svg, { box: [641, 784, 462, 596], xr: [673.7, 778.7], yd: [0, 40], yr: [592.3, 486], values: tcgaConn, yTicks: [0, 10, 20, 30, 40], fmt: (v) => String(v), title: 'Mean connectivity', titleX: [675, 749], ylabel: 'Mean Connectivity', ylabelX: 613, ylabelLen: 57 });
    drawSoftPanel(svg, { box: [1275, 1409, 462, 596], xr: [1306.7, 1404.3], yd: [0.2, 0.8], yr: [573.3, 477.7], values: geoFit, yTicks: [0.2, 0.4, 0.6, 0.8], fmt: (v) => v.toFixed(1), title: 'Scale independence', titleX: [1305, 1380], ylabel: 'Scale Free Topology Model Fit,signed R^2', ylabelX: 1249, ylabelLen: 132 });
    drawSoftPanel(svg, { box: [1462, 1597, 462, 596], xr: [1492.3, 1591.7], yd: [0, 25], yr: [591.3, 473.3], values: geoConn, yTicks: [0, 5, 10, 15, 20, 25], fmt: (v) => String(v), title: 'Mean connectivity', titleX: [1494, 1563], ylabel: 'Mean Connectivity', ylabelX: 1434, ylabelLen: 58 });

    // I: venn diagram
    put(svg, 'FAMGs Cluster WGCNA', 273, 713, { size: 31, family: OPEN, len: 324, fill: '#1a1a1a' });
    const vx = d3.scaleLinear().domain([0, 1560]).range([200, 720]);
    const vy = d3.scaleLinear().domain([0, 1500]).range([680, 1180]);
    const blob = d3.line<number[]>().x((p) => vx(p[0])).y((p) => vy(p[1])).curve(d3.curveCatmullRomClosed.alpha(0.5));
    vennShapes.forEach((shape, i) => {
      svg.append('path').attr('d', blob(shape)).attr('fill', vennFills[i]).attr('fill-opacity', 0.6);
    });
    // a thin wash of the yellow set over everything, which turns its overlaps orange and olive
    svg.append('path').attr('d', blob(vennGeoUni)).attr('fill', '#E8D83A').attr('fill-opacity', 0.22);
    vennShapes.forEach((shape, i) => {
      svg.append('path').attr('d', blob(shape)).attr('fill', 'none').attr('stroke', vennStrokes[i]).attr('stroke-width', 1.2).attr('stroke-opacity', 0.85);
    });
    vennCounts.forEach((c, i) => {
      put(svg, c, vx(vennCountPos[i][0]), vy(vennCountPos[i][1]) + 6.5, { size: 18, anchor: 'middle', fill: '#1a1a1a' });
    });
    vennSets.forEach((s, i) => {
      put(svg, s, vx(vennSetPos[i][0]), vy(vennSetPos[i][1]), { size: 15, anchor: 'middle', rot: vennSetAngle[i], fill: '#222' });
    });
    // arrow from the shared genes to the table
    const arrow = d3.path();
    arrow.moveTo(vx(725), vy(828));
    arrow.lineTo(vx(1515), vy(828));
    arrow.lineTo(vx(1515), vy(815));
    arrow.lineTo(vx(1545), vy(842));
    arrow.lineTo(vx(1515), vy(868));
    arrow.lineTo(vx(1515), vy(856));
    arrow.lineTo(vx(725), vy(856));
    arrow.closePath();
    svg.append('path').attr('d', arrow.toString()).attr('fill', '#FF3340').attr('fill-opacity', 0.75);

    // biomarker table
    svg.append('rect').attr('x', 756).attr('y', 760).attr('width', 128).attr('height', 400).attr('fill', '#CDCCCD');
    svg.append('rect').attr('x', 884).attr('y', 760).attr('width', 1).attr('height', 60).attr('fill', '#CDCCCD');
    biomarkers.forEach((b, i) => {
      const left = i === 0 ? 886 : 887;
      svg.append('rect').attr('x', left).attr('y', biomarkerTops[i]).attr('width', 1023 - left).attr('height', biomarkerBottoms[i] - biomarkerTops[i]).attr('fill', '#E7E6E7');
      put(svg, b, 954, biomarkerBase[i], { size: 22, family: OPEN, weight: 'bold', anchor: 'middle', len: biomarkerWidths[i], fill: '#111' });
    });
    put(svg, 'Six Core FAM Biomarkers', 833, 1133, { size: 32, family: OPEN, weight: 700, rot: -90, len: 345, fill: '#111' });

    // correlation network
    const nx = d3.scaleLinear().domain([0, 1200]).range([1040, 1440]);
    const ny = d3.scaleLinear().domain([0, 1290]).range([740, 1170]);
    const edge = d3.line<number[]>().x((p) => nx(p[0])).y((p) => ny(p[1])).curve(d3.curveCatmullRom.alpha(0.5));
    const gN = svg.append('g').attr('filter', 'url(#soft)');
    edgePaths.forEach((p, i) => {
      gN.append('path').attr('d', edge(p)).attr('fill', 'none').attr('stroke', netColor(edgeCorr[i])).attr('stroke-width', 3.8).attr('stroke-opacity', 0.9).attr('stroke-linecap', 'round');
    });
    nodeNames.forEach((n, i) => {
      put(gN, n, nx(nodePos[i][0]), ny(nodePos[i][1]) + 3.5, { size: 10.5, family: SERIF, weight: 'bold', anchor: 'middle', fill: '#111' });
    });
    const lx = d3.scaleLinear().domain([1, -1]).range([1169, 1339]);
    const steps = d3.range(1, -1, -0.05);
    steps.forEach((v) => {
      svg.append('rect').attr('x', lx(v)).attr('y', 1122).attr('width', lx(v - 0.05) - lx(v) + 0.3).attr('height', 35).attr('fill', netColor(v - 0.025));
    });
    netLegendTicks.forEach((t, i) => {
      put(svg, netLegendLabels[i], lx(t), 1111, { size: 14, anchor: 'middle', fill: '#222' });
    });
  }, []);

  return (
    <svg ref={svgRef} width={1598} height={1184} style={{ position: 'absolute', left: 0, top: 0, background: '#fff' }} />
  );
};

export default App;
